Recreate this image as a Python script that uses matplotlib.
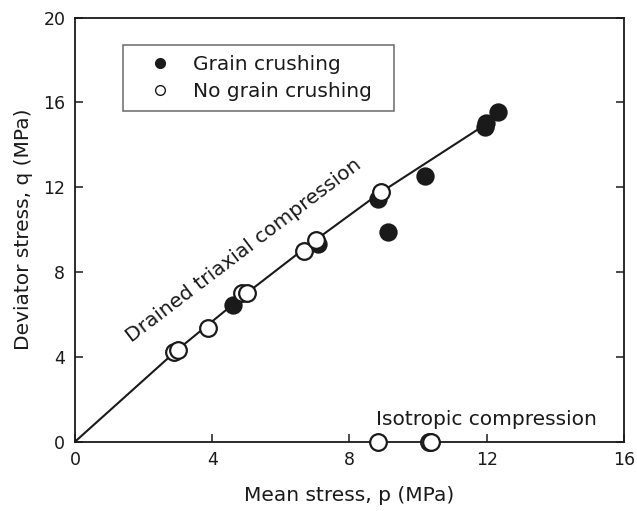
import matplotlib
matplotlib.use("Agg")
import matplotlib.pyplot as plt
from matplotlib.lines import Line2D

plt.rcParams['font.family'] = ['DejaVu Sans']

# Drained triaxial compression stress path (p, q) in MPa
path_p = [0.0, 2.96, 5.0, 7.0, 8.9, 12.0]
path_q = [0.0, 4.30, 7.0, 9.5, 11.75, 15.0]

# Tests with grain crushing
crush_p = [4.60, 7.08, 8.83, 9.12, 10.19, 11.94, 11.99, 12.32]
crush_q = [6.45, 9.33, 11.46, 9.91, 12.55, 14.86, 15.02, 15.57]

# Tests without grain crushing (triaxial and isotropic)
nocrush_p = [2.90, 3.01, 3.87, 4.86, 5.01, 6.68, 7.02, 8.91, 8.84, 10.32, 10.38]
nocrush_q = [4.22, 4.32, 5.35, 7.00, 7.00, 9.00, 9.51, 11.77, 0.0, 0.0, 0.0]

x_ticks = [0, 4, 8, 12, 16]
y_ticks = [0, 4, 8, 12, 16, 20]

ink = '#1a1a1a'

fig = plt.figure(figsize=(6.37, 5.11), dpi=100)
ax = fig.add_axes([0.1177, 0.1356, 0.8619, 0.8298])

ax.plot(path_p, path_q, color=ink, lw=1.5, zorder=2, solid_joinstyle='round')

ax.plot(crush_p, crush_q, ls='none', marker='o', ms=12, mfc=ink, mec=ink,
        mew=1.2, zorder=3)
ax.plot(nocrush_p, nocrush_q, ls='none', marker='o', ms=12, mfc='white',
        mec=ink, mew=1.6, zorder=4, clip_on=False)

ax.set_xlim(0, 16)
ax.set_ylim(0, 20)
ax.set_xticks(x_ticks)
ax.set_yticks(y_ticks)

for s in ax.spines.values():
    s.set_linewidth(1.3)
    s.set_color(ink)

ax.tick_params(direction='in', length=6, width=1.1, color=ink,
               labelsize=12.5, labelcolor=ink, top=False, right=True)
ax.tick_params(axis='x', pad=7)
ax.tick_params(axis='y', pad=7)

ax.set_xlabel('Mean stress, p (MPa)', fontsize=14.5, color=ink, labelpad=12)
ax.set_ylabel('Deviator stress, q (MPa)', fontsize=14.5, color=ink, labelpad=7)

ax.text(1.66, 4.68, 'Drained triaxial compression', fontsize=14.5, color=ink,
        rotation=37.3, rotation_mode='anchor', ha='left', va='baseline')
ax.text(8.78, 0.8, 'Isotropic compression', fontsize=14.5, color=ink,
        ha='left', va='baseline')

handles = [
    Line2D([], [], ls='none', marker='o', ms=7, mfc=ink, mec=ink),
    Line2D([], [], ls='none', marker='o', ms=7, mfc='white', mec=ink, mew=1.0),
]
leg = ax.legend(handles, ['Grain crushing', 'No grain crushing'],
                loc='upper left', bbox_to_anchor=(0.0874, 0.9356, 0.4936, 0.0),
                mode='expand', fontsize=14.5, frameon=True, fancybox=False,
                handlelength=2.7, handletextpad=0.3, borderpad=0.5,
                labelspacing=0.4, borderaxespad=0.0)
leg.get_frame().set_edgecolor('#444444')
leg.get_frame().set_linewidth(1.1)
for t in leg.get_texts():
    t.set_color(ink)

fig.savefig('out.png', dpi=100)
